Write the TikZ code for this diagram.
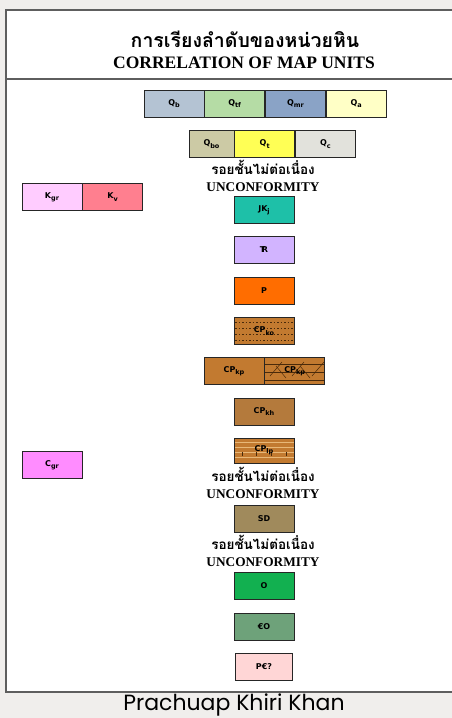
\documentclass[tikz,border=0pt]{standalone}
\usepackage{fontspec}
\setmainfont{Liberation Serif}
\newfontfamily\thaifont[Script=Thai]{Loma}
\newfontfamily\unitfont{DejaVu Sans}
\newfontfamily\capfont{Poppins}
\usetikzlibrary{positioning}

\definecolor{pagebg}{HTML}{F0EEEC}
\definecolor{framegray}{HTML}{5E5E5E}
\definecolor{cQb}{HTML}{B4C3D3}
\definecolor{cQtf}{HTML}{B5DCA5}
\definecolor{cQmr}{HTML}{8AA3C6}
\definecolor{cQa}{HTML}{FFFFC6}
\definecolor{cQbo}{HTML}{CCCAA5}
\definecolor{cQt}{HTML}{FFFF55}
\definecolor{cQc}{HTML}{E2E2DC}
\definecolor{cKgr}{HTML}{FFCCFF}
\definecolor{cKv}{HTML}{FF7F8F}
\definecolor{cJKj}{HTML}{1EC0A8}
\definecolor{cTr}{HTML}{D2B4FF}
\definecolor{cP}{HTML}{FF6D00}
\definecolor{cCP}{HTML}{C27A30}
\definecolor{cCPkh}{HTML}{B47A3C}
\definecolor{cSD}{HTML}{A08A5C}
\definecolor{cO}{HTML}{12B050}
\definecolor{cCO}{HTML}{6EA27A}
\definecolor{cPCO}{HTML}{FFD6D6}
\definecolor{cCgr}{HTML}{FF8CFF}
\definecolor{hatch}{HTML}{4A2A0A}
\definecolor{stripe}{HTML}{E8B878}

\newcommand\usub[2]{#1\raisebox{-0.5ex}{\fontsize{6.5}{7}\selectfont #2}}
\newcommand\trsym{T\kern-0.45em R}
\newcommand\uncontext{{\thaifont\fontsize{13.5}{15}\selectfont รอยชั้นไม่ต่อเนื่อง}\\[2.5pt] UNCONFORMITY}

\tikzset{
  unitbox/.style={draw=black!85, line width=0.7pt, inner sep=0pt,
    minimum width=60pt, minimum height=27pt,
    font=\unitfont\bfseries\fontsize{8}{9}\selectfont},
  frameline/.style={draw=framegray, line width=1.5pt},
  uncon/.style={align=center, inner sep=0pt,
    font=\bfseries\fontsize{13.3}{15}\selectfont},
}

\begin{document}
\begin{tikzpicture}[x=1pt,y=-1pt]
  \useasboundingbox (0,0) rectangle (452,718);
  \fill[pagebg] (0,0) rectangle (452,718);
  % white sheet and its frame
  \fill[white] (6,10) rectangle (452,692);
  \draw[frameline] (452,10) -- (6,10) -- (6,692) -- (452,692);
  \draw[frameline] (6,79) -- (452,79);

  % heading
  \node[inner sep=0pt, font=\thaifont\bfseries\fontsize{19.5}{21}\selectfont] (titleth) at (245,39) {การเรียงลำดับของหน่วยหิน};
  \node[inner sep=0pt, font=\bfseries\fontsize{17.5}{20}\selectfont] (titleen) at (244,63) {CORRELATION OF MAP UNITS};

  % quaternary rows
  \node[unitbox, fill=cQb] (qb) at (174,103.5) {\usub{Q}{b}};
  \node[unitbox, fill=cQtf, right=0pt of qb] (qtf) {\usub{Q}{tf}};
  \node[unitbox, fill=cQmr, right=0pt of qtf] (qmr) {\usub{Q}{mr}};
  \node[unitbox, fill=cQa, right=0pt of qmr] (qa) {\usub{Q}{a}};
  \node[unitbox, fill=cQbo, minimum width=45pt] (qbo) at (211.5,144) {\usub{Q}{bo}};
  \node[unitbox, fill=cQt, right=0pt of qbo] (qt) {\usub{Q}{t}};
  \node[unitbox, fill=cQc, right=0pt of qt] (qc) {\usub{Q}{c}};

  \node[uncon] (uncona) at (263,176) {\uncontext};

  % intrusives, left column
  \node[unitbox, fill=cKgr] (kgr) at (52,197) {\usub{K}{gr}};
  \node[unitbox, fill=cKv, right=0pt of kgr] (kv) {\usub{K}{v}};
  \node[unitbox, fill=cCgr] (cgr) at (52,465) {\usub{C}{gr}};

  % main column, plain boxes
  \foreach \nm/\yy/\col/\lab in {jkj/210/cJKj/{\usub{JK}{j}}, tr/250/cTr/{\trsym},
      p/291/cP/P, cpkh/411.5/cCPkh/{\usub{CP}{kh}}, sd/519/cSD/SD,
      o/586/cO/O, co/626.5/cCO/{€O}}
    \node[unitbox, fill=\col] (\nm) at (264,\yy) {\lab};
  \node[unitbox, fill=cPCO, minimum width=57pt] (pco) at (264,666.5) {P€?};

  % CPko, dotted
  \fill[cCP] (234,318) rectangle (294,344);
  \foreach \yy in {322,328,334,340}
    \draw[hatch, line width=0.5pt, dash pattern=on 1.5pt off 2pt] (235,\yy) -- (293,\yy);
  \node[unitbox] (cpko) at (264,331) {\usub{CP}{ko}};

  % CPkp, plain and hatched
  \node[unitbox, fill=cCP] (cpkpa) at (234,371) {\usub{CP}{kp}};
  \fill[cCP] (264,358) rectangle (324,384);
  \begin{scope}
    \clip (264,358) rectangle (324,384);
    \foreach \yy in {364,372,380}
      \draw[hatch, line width=0.6pt] (264,\yy) -- (324,\yy);
    \foreach \xx in {270,292,312}
      \draw[hatch, line width=0.5pt] (\xx,376) -- (\xx+12,362);
    \foreach \xx in {276,300}
      \draw[hatch, line width=0.5pt] (\xx,366) -- (\xx+10,378);
  \end{scope}
  \node[unitbox, right=0pt of cpkpa] (cpkpb) {\usub{CP}{kp}};

  % CPlp, striped
  \fill[cCP] (234,438) rectangle (294,463);
  \foreach \yy in {442,447,452,457}
    \draw[stripe, line width=0.9pt] (234,\yy) -- (294,\yy);
  \foreach \xx in {242,256,271,286}
    \draw[hatch, line width=0.4pt] (\xx,452) -- (\xx,456);
  \node[unitbox, minimum height=25pt] (cplp) at (264,450.5) {\usub{CP}{lp}};

  \node[uncon] (unconb) at (263,483) {\uncontext};
  \node[uncon] (unconc) at (263,551) {\uncontext};

  % caption under the sheet
  \node[inner sep=0pt, font=\capfont\fontsize{22}{24}\selectfont] (caption) at (234,705) {Prachuap Khiri Khan};
\end{tikzpicture}
\end{document}
